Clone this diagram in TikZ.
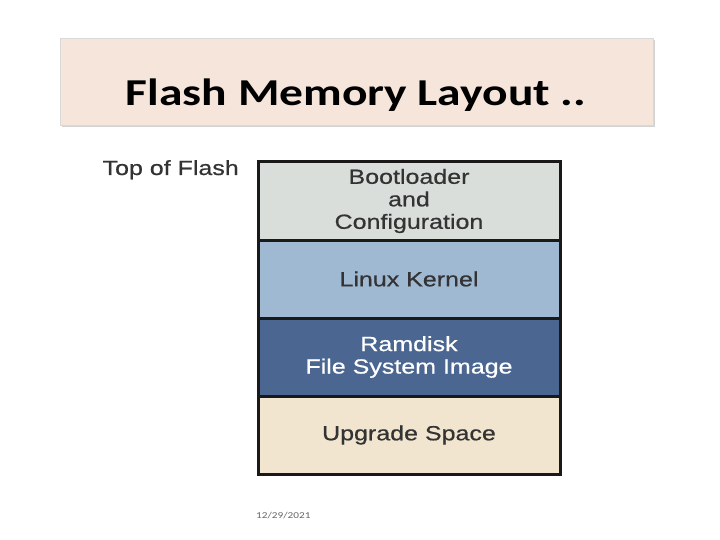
\documentclass[tikz,border=0pt]{standalone}
\usepackage{fontspec}
\setmainfont{Liberation Sans}
\newfontfamily\labelfont[FakeStretch=1.22,FakeBold=0.6]{Liberation Sans}
\newfontfamily\titlefont[FakeStretch=1.25]{Carlito}
\usetikzlibrary{positioning,shadows}
\definecolor{titlebg}{HTML}{F6E5DB}
\definecolor{bootgray}{HTML}{DADEDB}
\definecolor{kernelblue}{HTML}{A0B9D3}
\definecolor{ramblue}{HTML}{4A6691}
\definecolor{upgradetan}{HTML}{F2E5CF}
\definecolor{labelgray}{HTML}{333333}
\begin{document}
\begin{tikzpicture}[x=1pt,y=-1pt,
    region/.style={draw=black!90,line width=3pt,minimum width=302pt,
      minimum height=78pt,inner sep=0pt,outer sep=0pt,align=center,
      font=\labelfont\fontsize{20.5}{22.5}\selectfont,text=labelgray,anchor=north}]
  \useasboundingbox[fill=white] (0,0) rectangle (720,540);
  % title banner
  \node[fill=titlebg,draw=black!15,drop shadow={shadow xshift=1.5pt,shadow yshift=-2pt,opacity=0.35},
    minimum width=593pt,minimum height=87pt,anchor=north west,inner sep=0pt] (banner) at (60,38) {};
  \node[anchor=base,inner sep=0pt,font=\titlefont\bfseries\fontsize{38}{44}\selectfont]
    (title) at (356,106) {Flash Memory Layout ..};
  % flash regions, top to bottom
  \node[region,fill=bootgray] (boot) at (409,162) {Bootloader\\and\\Configuration};
  \node[region,fill=kernelblue,below=0pt of boot] (kernel) {Linux Kernel};
  \node[region,fill=ramblue,text=white,below=0pt of kernel] (ramdisk) {Ramdisk\\File System Image};
  \node[region,fill=upgradetan,below=0pt of ramdisk] (upgrade) {Upgrade Space};
  \node[anchor=base east,inner sep=0pt,text=labelgray,font=\labelfont\fontsize{20.5}{22.5}\selectfont]
    (top) at (239,175) {Top of Flash};
  \node[anchor=west,inner sep=0pt,text=black!60,font=\titlefont\fontsize{9}{11}\selectfont]
    (date) at (256,516) {12/29/2021};
\end{tikzpicture}
\end{document}
